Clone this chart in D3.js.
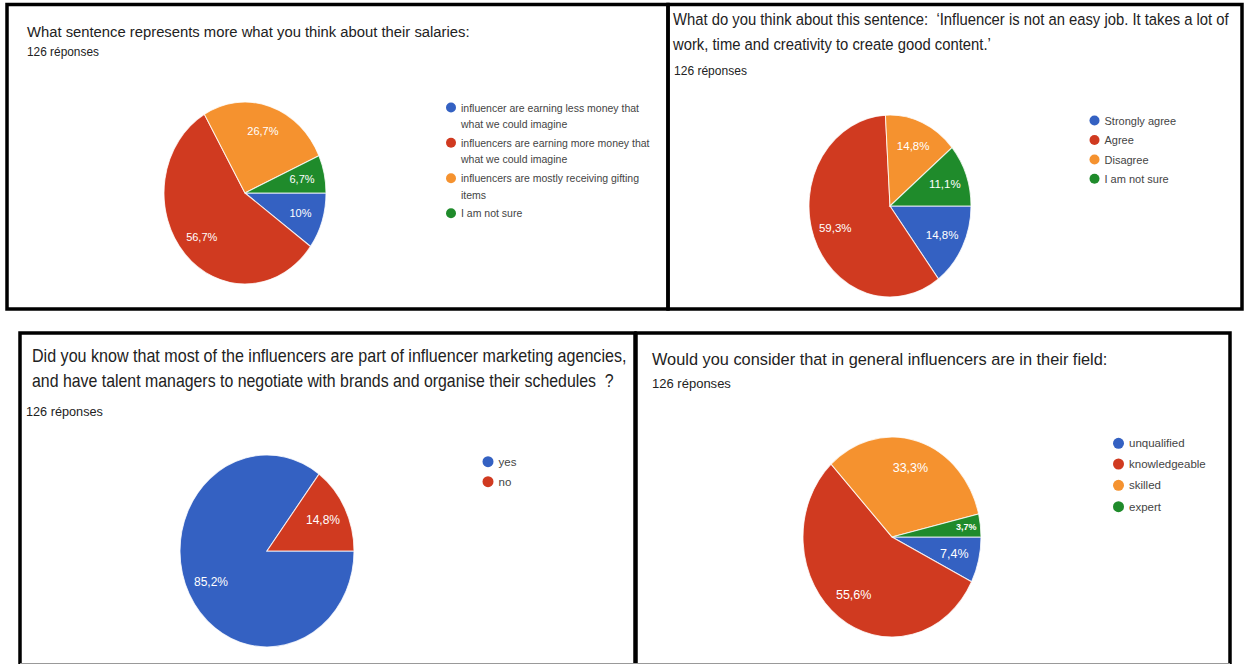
<!DOCTYPE html>
<html>
<head>
<meta charset="utf-8">
<script src="https://cdn.jsdelivr.net/npm/d3@7"></script>
<style>
  html, body { margin: 0; padding: 0; background: #fff; }
  svg { display: block; }
  text { font-family: "Liberation Sans", Arial, sans-serif; white-space: pre; }
</style>
</head>
<body>
<svg id="chart" width="1245" height="664"></svg>
<script>
// ---- Survey results (126 responses each) ----
const responsesLabel = "126 réponses";
const sliceColors = ["#3461c2", "#d03a20", "#f5922f", "#1f8b2b"];

// Q1: salaries
const salaryTitle = ["What sentence represents more what you think about their salaries:"];
const salaryCategories = [
  ["influencer are earning less money that", "what we could imagine"],
  ["influencers are earning more money that", "what we could imagine"],
  ["influencers are mostly receiving gifting", "items"],
  ["I am not sure"]
];
const salaryValues = [10, 56.7, 26.7, 6.7];
const salaryValueLabels = ["10%", "56,7%", "26,7%", "6,7%"];

// Q2: "Influencer is not an easy job"
const easyJobTitle = [
  "What do you think about this sentence:  ‘Influencer is not an easy job. It takes a lot of",
  "work, time and creativity to create good content.’"
];
const easyJobCategories = [["Strongly agree"], ["Agree"], ["Disagree"], ["I am not sure"]];
const easyJobValues = [14.8, 59.3, 14.8, 11.1];
const easyJobValueLabels = ["14,8%", "59,3%", "14,8%", "11,1%"];

// Q3: agencies and talent managers
const agencyTitle = [
  "Did you know that most of the influencers are part of influencer marketing agencies,",
  "and have talent managers to negotiate with brands and organise their schedules  ?"
];
const agencyCategories = [["yes"], ["no"]];
const agencyValues = [85.2, 14.8];
const agencyValueLabels = ["85,2%", "14,8%"];

// Q4: qualification in their field
const fieldTitle = ["Would you consider that in general influencers are in their field:"];
const fieldCategories = [["unqualified"], ["knowledgeable"], ["skilled"], ["expert"]];
const fieldValues = [7.4, 55.6, 33.3, 3.7];
const fieldValueLabels = ["7,4%", "55,6%", "33,3%", "3,7%"];

// ---- Layout of the four panels ----
const panels = [
  {
    frame: [7, 4.5, 661, 304.5],
    title: salaryTitle, titleX: 27, titleY: [32], titleSize: 15, titleW: [443],
    respX: 27, respY: 51.5, respSize: 12.5, respW: 72,
    cats: salaryCategories, values: salaryValues, valueLabels: salaryValueLabels,
    cx: 245, cy: 193, rx: 81, ry: 91, labelSize: 11, smallSize: 11,
    legX: 451, legY: [107.5, 142.7, 178.3, 213.3], legSize: 10.5, legLine: 16.5, dotR: 5
  },
  {
    frame: [668, 4.5, 574, 304.5],
    title: easyJobTitle, titleX: 673, titleY: [19, 44], titleSize: 17, titleW: [556, 318],
    respX: 674, respY: 71, respSize: 13, respW: 73,
    cats: easyJobCategories, values: easyJobValues, valueLabels: easyJobValueLabels,
    cx: 890, cy: 206, rx: 81, ry: 91, labelSize: 11.5, smallSize: 11.5,
    legX: 1094.5, legY: [120.5, 140, 159.5, 178.7], legSize: 11, legLine: 16, dotR: 5
  },
  {
    frame: [20, 333, 615, 345],
    title: agencyTitle, titleX: 32, titleY: [356, 381], titleSize: 17.5, titleW: [595, 582],
    respX: 26, respY: 411.5, respSize: 13.5, respW: 77,
    cats: agencyCategories, values: agencyValues, valueLabels: agencyValueLabels,
    cx: 267, cy: 551, rx: 87, ry: 96, labelSize: 12, smallSize: 12,
    legX: 488, legY: [461.7, 481.7], legSize: 11.5, legLine: 16, dotR: 5.5
  },
  {
    frame: [636, 333, 594, 345],
    title: fieldTitle, titleX: 652, titleY: [359.5], titleSize: 17, titleW: [456],
    respX: 652, respY: 383, respSize: 13.5, respW: 79,
    cats: fieldCategories, values: fieldValues, valueLabels: fieldValueLabels,
    cx: 892, cy: 537, rx: 89, ry: 100, labelSize: 12.5, smallSize: 9,
    legX: 1118.5, legY: [443.3, 464, 485.3, 506.7], legSize: 11.5, legLine: 16, dotR: 5.5
  }
];

const svg = d3.select("#chart");

const pie = d3.pie()
  .sort(null)
  .value(d => d.value)
  .startAngle(Math.PI / 2)
  .endAngle(Math.PI / 2 + 2 * Math.PI);

const color = d3.scaleOrdinal().domain(d3.range(4)).range(sliceColors);

// Place a text at (x, y) and squeeze it horizontally to the given width
function fitText(sel, x, y, width) {
  const natural = sel.node().getComputedTextLength();
  sel.attr("transform", `translate(${x},${y}) scale(${width / natural},1)`);
}

panels.forEach(p => {
  const g = svg.append("g");

  // Title lines
  p.title.forEach((line, i) => {
    const t = g.append("text")
      .attr("dominant-baseline", "central")
      .attr("font-size", p.titleSize)
      .attr("fill", "#222")
      .text(line);
    fitText(t, p.titleX, p.titleY[i], p.titleW[i]);
  });

  const resp = g.append("text")
    .attr("dominant-baseline", "central")
    .attr("font-size", p.respSize)
    .attr("fill", "#222")
    .text(responsesLabel);
  fitText(resp, p.respX, p.respY, p.respW);

  // Pie slices (drawn circular, then stretched vertically)
  const data = p.values.map((v, i) => ({ value: v, index: i, label: p.valueLabels[i] }));
  const arcs = pie(data);
  const k = p.ry / p.rx;
  const arc = d3.arc().innerRadius(0).outerRadius(p.rx);
  const labelArc = d3.arc().innerRadius(p.rx * 0.72).outerRadius(p.rx * 0.72);
  const smallLabelArc = d3.arc().innerRadius(p.rx * 0.84).outerRadius(p.rx * 0.84);
  const labelPos = d => (d.data.value < 5 ? smallLabelArc : labelArc).centroid(d);

  g.append("g")
    .attr("transform", `translate(${p.cx},${p.cy}) scale(1,${k})`)
    .selectAll("path")
    .data(arcs)
    .join("path")
    .attr("d", arc)
    .attr("fill", d => color(d.data.index))
    .attr("stroke", "#ffffff")
    .attr("stroke-opacity", 0.8)
    .attr("stroke-width", 1);

  g.append("g")
    .attr("transform", `translate(${p.cx},${p.cy})`)
    .selectAll("text")
    .data(arcs)
    .join("text")
    .attr("x", d => labelPos(d)[0])
    .attr("y", d => labelPos(d)[1] * k)
    .attr("text-anchor", "middle")
    .attr("dominant-baseline", "central")
    .attr("font-size", d => (d.data.value < 5 ? p.smallSize : p.labelSize))
    .attr("font-weight", d => (d.data.value < 5 ? "bold" : "normal"))
    .attr("fill", "#ffffff")
    .text(d => d.data.label);

  // Legend
  const leg = g.append("g");
  p.cats.forEach((lines, i) => {
    leg.append("circle")
      .attr("cx", p.legX).attr("cy", p.legY[i])
      .attr("r", p.dotR)
      .attr("fill", color(i));
    lines.forEach((line, j) => {
      leg.append("text")
        .attr("x", p.legX + p.dotR + 5)
        .attr("y", p.legY[i] + j * p.legLine)
        .attr("dominant-baseline", "central")
        .attr("font-size", p.legSize)
        .attr("fill", "#444")
        .text(line);
    });
  });

  // Panel frame
  g.append("rect")
    .attr("x", p.frame[0]).attr("y", p.frame[1])
    .attr("width", p.frame[2]).attr("height", p.frame[3])
    .attr("fill", "none")
    .attr("stroke", "#000")
    .attr("stroke-width", 3.5);
});

// Bottom edge of the lower panels
svg.append("line")
  .attr("x1", 20).attr("x2", 1230)
  .attr("y1", 663.5).attr("y2", 663.5)
  .attr("stroke", "#999").attr("stroke-width", 1);
</script>
</body>
</html>
